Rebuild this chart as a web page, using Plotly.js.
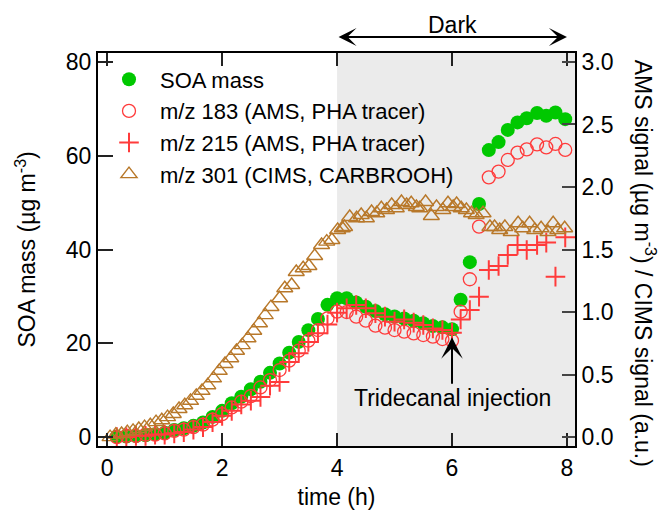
<!DOCTYPE html>
<html>
<head>
<meta charset="utf-8">
<script src="https://cdn.plot.ly/plotly-3.0.1.min.js"></script>
<style>html,body{margin:0;padding:0;background:#fff;}#plot{width:661px;height:513px;}</style>
</head>
<body>
<div id="plot"></div>
<script>
// SOA mass (left axis, ug m-3), 10-min points
var tSOA = [0.167,0.333,0.5,0.667,0.833,1.0,1.167,1.333,1.5,1.667,1.833,2.0,2.167,2.333,2.5,2.667,2.833,3.0,3.167,3.333,3.5,3.667,3.833,4.0,4.167,4.333,4.5,4.667,4.833,5.0,5.167,5.333,5.5,5.667,5.833,6.0,6.15,6.31,6.47,6.64,6.81,6.97,7.14,7.30,7.48,7.64,7.80,7.97];
var vSOA = [0.1,0.1,0.2,0.4,0.6,0.9,1.5,1.9,2.4,3.1,4.3,5.6,7.2,8.6,10.2,11.8,13.7,15.7,18.0,20.3,22.8,25.2,28.2,29.6,29.6,28.7,27.8,26.9,26.2,25.7,25.3,24.8,24.3,23.7,23.4,23.0,29.3,37.3,49.7,61.2,62.9,65.5,67.1,68.0,69.1,68.5,69.2,67.8];
// m/z 183 (right axis)
var t183 = tSOA;
var v183 = [0.0,0.01,0.01,0.02,0.02,0.03,0.05,0.06,0.08,0.10,0.14,0.184,0.237,0.283,0.328,0.397,0.456,0.536,0.611,0.691,0.771,0.856,0.949,1.003,1.0,0.963,0.931,0.891,0.875,0.856,0.843,0.829,0.816,0.803,0.784,0.771,1.003,1.262,1.683,2.077,2.123,2.216,2.275,2.301,2.341,2.317,2.344,2.296];
// m/z 215 (right axis)
var t215 = tSOA;
var v215 = [0.0,0.0,0.01,0.01,0.02,0.02,0.03,0.04,0.06,0.08,0.12,0.17,0.21,0.26,0.29,0.32,0.41,0.44,0.60,0.67,0.76,0.83,0.90,0.995,1.03,1.056,1.03,0.99,0.963,0.923,0.941,0.915,0.896,0.869,0.856,0.835,0.941,1.016,1.123,1.336,1.368,1.456,1.536,1.496,1.536,1.555,1.283,1.597];
// m/z 301 (CIMS, right axis)
var t301 = [0.05,0.15,0.25,0.35,0.45,0.55,0.65,0.75,0.85,0.95,1.05,1.15,1.25,1.35,1.45,1.55,1.65,1.75,1.85,1.95,2.05,2.15,2.25,2.35,2.45,2.55,2.65,2.75,2.85,3.0,3.09,3.21,3.29,3.41,3.51,3.61,3.73,3.82,3.91,4.01,4.09,4.13,4.22,4.34,4.42,4.51,4.60,4.69,4.77,4.86,4.95,5.03,5.12,5.21,5.29,5.38,5.44,5.54,5.64,5.73,5.84,5.93,6.02,6.08,6.16,6.25,6.34,6.42,6.54,6.66,6.74,6.83,6.92,7.03,7.15,7.23,7.35,7.44,7.55,7.67,7.76,7.84,7.96];
var v301 = [0.0,0.02,0.025,0.04,0.05,0.065,0.08,0.095,0.12,0.135,0.16,0.185,0.225,0.255,0.29,0.33,0.37,0.415,0.47,0.53,0.585,0.63,0.69,0.735,0.79,0.85,0.91,0.975,1.04,1.11,1.19,1.216,1.32,1.35,1.368,1.448,1.536,1.563,1.576,1.656,1.67,1.68,1.76,1.75,1.776,1.75,1.80,1.79,1.83,1.816,1.856,1.83,1.88,1.856,1.87,1.84,1.83,1.88,1.768,1.84,1.816,1.87,1.84,1.864,1.83,1.816,1.79,1.776,1.79,1.68,1.68,1.656,1.68,1.64,1.71,1.67,1.71,1.656,1.67,1.64,1.71,1.656,1.67];

var names = ['SOA mass','m/z 183 (AMS, PHA tracer)','m/z 215 (AMS, PHA tracer)','m/z 301 (CIMS, CARBROOH)'];
var green = '#00c800', red = '#ff3b3b', brown = '#b8782a';
var FONT = 'Liberation Sans, Arial, sans-serif';
var FS = 23;

var traces = [
  {x:tSOA, y:vSOA, name:names[0], type:'scatter', mode:'markers', yaxis:'y',
   marker:{symbol:'circle', size:14, color:green, line:{width:0}}},
  {x:t183, y:v183, name:names[1], type:'scatter', mode:'markers', yaxis:'y2',
   marker:{symbol:'circle-open', size:13, color:red, line:{width:1.3}}},
  {x:t215, y:v215, name:names[2], type:'scatter', mode:'markers', yaxis:'y2',
   marker:{symbol:'cross-thin-open', size:14, color:red, line:{width:2, color:red}}},
  {x:t301, y:v301, name:names[3], type:'scatter', mode:'markers', yaxis:'y2',
   marker:{symbol:'triangle-up-open', size:14, color:brown, line:{width:1.4}}}
];

var layout = {
  width:661, height:513,
  margin:{l:98, r:86, t:53, b:67},
  paper_bgcolor:'#fff', plot_bgcolor:'#fff',
  font:{family:FONT, size:FS, color:'#000'},
  showlegend:true,
  legend:{x:0, y:0.986, xanchor:'left', yanchor:'top', bgcolor:'rgba(0,0,0,0)',
          font:{size:22}, itemwidth:52, tracegroupgap:0},
  xaxis:{range:[-0.16,8.14], tickvals:[0,2,4,6,8], ticks:'inside', ticklen:13, tickwidth:2,
         tickcolor:'#222', showline:true, linewidth:2, linecolor:'#000', mirror:'ticks',
         showgrid:false, zeroline:false, title:{text:'time (h)', font:{size:FS}, standoff:9},
         tickfont:{size:FS}},
  yaxis:{range:[-1.9,81.9], tickvals:[0,20,40,60,80], ticks:'inside', ticklen:15, tickwidth:2,
         tickcolor:'#222', showline:true, linewidth:2, linecolor:'#000', mirror:false,
         showgrid:false, zeroline:false, tickfont:{size:FS}},
  yaxis2:{overlaying:'y', side:'right', range:[-1.9*3/80, 81.9*3/80],
          tickvals:[0,0.5,1,1.5,2,2.5,3], ticktext:['0.0','0.5','1.0','1.5','2.0','2.5','3.0'],
          ticks:'inside', ticklen:13, tickwidth:2, tickcolor:'#444', showline:true, linewidth:2, linecolor:'#000',
          showgrid:false, zeroline:false, tickfont:{size:FS}},
  shapes:[{type:'rect', xref:'x', yref:'paper', x0:4, x1:8.14, y0:0, y1:1,
           fillcolor:'#ebebeb', line:{width:0}, layer:'below'}],
  annotations:[
    {xref:'paper', yref:'paper', x:-0.153, y:0.5, xanchor:'center', yanchor:'middle', textangle:-90,
     text:'SOA mass (µg m<sup>-3</sup>)', showarrow:false, font:{size:FS}},
    {xref:'paper', yref:'paper', x:1.147, y:0.466, xanchor:'center', yanchor:'middle', textangle:90,
     text:'AMS signal (µg m<sup>-3</sup>) / CIMS signal (a.u.)', showarrow:false, font:{size:FS}},
    {xref:'x', yref:'paper', x:6, y:1.07, yanchor:'middle', text:'Dark', showarrow:false, font:{size:FS}},
    {xref:'x', yref:'paper', x:8, y:1.041, axref:'x', ayref:'pixel', ax:4, ay:0, text:'',
     showarrow:true, arrowhead:3, startarrowhead:3, arrowside:'end+start', arrowsize:1.5, startarrowsize:1.5, arrowwidth:2, arrowcolor:'#000'},
    {xref:'x', yref:'y', x:6, y:21.3, axref:'x', ayref:'y', ax:6, ay:8.3, text:'Tridecanal injection',
     showarrow:true, arrowhead:3, arrowsize:1.8, arrowwidth:2, arrowcolor:'#000', standoff:0, startstandoff:0,
     font:{size:FS}}
  ]
};

Plotly.newPlot('plot', traces, layout, {displayModeBar:false, staticPlot:true});
</script>
</body>
</html>
